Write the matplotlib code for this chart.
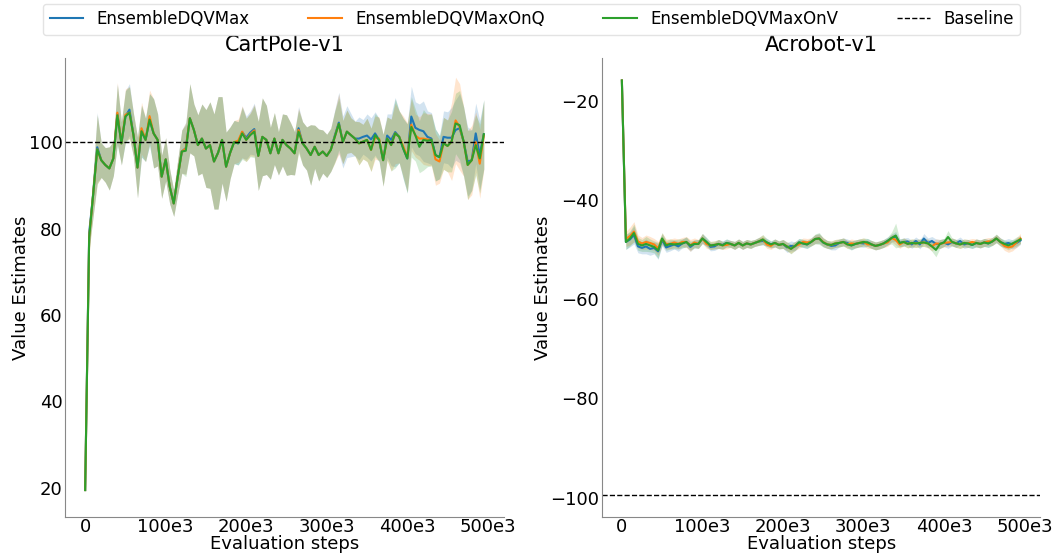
import numpy as np
import matplotlib
matplotlib.use('Agg')
import matplotlib.pyplot as plt

# evaluation every 5e3 steps
steps = np.arange(100) * 5000

labels = ['EnsembleDQVMax', 'EnsembleDQVMaxOnQ', 'EnsembleDQVMaxOnV']
colors = ['#1f77b4', '#ff7f0e', '#2ca02c']

# CartPole-v1 value estimates
cart_max = [19.5, 79, 88, 98.8, 95.8, 94.7, 93.9, 96.2, 106.5, 99.7,
            105.9, 107.5, 101.6, 94.1, 102.5, 100.5, 105.2, 102, 100.5, 92,
            96, 89.7, 85.8, 92, 97.8, 98.6, 105.5, 102.8, 99.3, 100.8,
            98.5, 99.3, 95.5, 97.5, 100.5, 94.3, 97.5, 100, 99.7, 102.3,
            101, 102.2, 103, 96.8, 101.2, 100.5, 97.4, 100.8, 97.4, 100.5,
            99.3, 98.5, 97.4, 103.2, 99.7, 98.5, 97, 98.9, 97, 97.8,
            96.8, 98.2, 101.5, 104.5, 100, 102.4, 101.6, 100.8, 100.8, 101.2,
            101.5, 100.6, 102, 100.5, 95.8, 101.5, 100.5, 102.3, 101.2, 98.5,
            96.2, 105.9, 103.3, 102.8, 102.5, 101.2, 100.8, 97, 96.5, 101.2,
            101, 101, 102.8, 103.2, 100.1, 95.5, 95.8, 102, 97, 101.8]
cart_max_q = [19.5, 78, 88, 98.3, 95.8, 94.7, 93.9, 96.2, 106.8, 99.7,
              106.3, 106.8, 101.6, 94.1, 103.2, 100.5, 106, 102, 100.5, 92,
              96, 89.7, 85.8, 92, 97.8, 98.5, 105.5, 102.8, 99.3, 100.8,
              98.5, 99.3, 95.5, 97.5, 100.5, 94.3, 97.5, 100, 100.3, 102.4,
              100.5, 101.8, 102.7, 96.8, 101.2, 100.5, 97.4, 100.8, 97.4, 100.5,
              99.3, 98.5, 97.4, 102.8, 99.7, 98.5, 97, 98.9, 97, 97.8,
              96.8, 98.2, 101.2, 104.2, 100, 102.4, 101.6, 100.8, 99.7, 100.1,
              100.5, 98.2, 101, 100.8, 95.8, 100.8, 99.3, 102, 101.2, 99,
              96.5, 104, 101.5, 100.8, 100.8, 100.6, 100.5, 96, 95.5, 99.7,
              99.1, 100.1, 105, 103.5, 100.1, 94.7, 95.8, 100, 95, 101.5]
cart_max_v = [19.5, 78, 88, 98.3, 95.8, 94.7, 93.9, 96.2, 106.2, 99.7,
              105.9, 106.8, 101.6, 94.1, 102.5, 100.5, 105.2, 102, 100.5, 92,
              96, 89.7, 85.8, 92, 97.8, 98, 105.5, 102.8, 99.3, 100.8,
              98.5, 99.3, 95.5, 97.5, 100.5, 94.3, 97.5, 100, 99.7, 102,
              100.5, 101.6, 102.4, 96.8, 101.2, 100.5, 97.4, 100.8, 97.4, 100.5,
              99.3, 98.5, 97.4, 102.4, 99.7, 98.5, 97, 98.9, 97, 97.8,
              96.8, 98.2, 101.2, 104.2, 100, 102.4, 101.6, 100.8, 99.7, 100.1,
              100.5, 98.2, 101.6, 100.5, 95.8, 100.8, 99.3, 102, 101.2, 98.5,
              96.2, 103.5, 101.6, 98.9, 100.5, 100.3, 100.5, 97, 96.5, 99.7,
              99.1, 100.1, 104.3, 103.9, 100.1, 94.7, 95.8, 99.3, 96.2, 101.8]
cart_max_err = [0.5, 3, 5, 8, 4, 4, 5, 4, 7, 5,
                6, 6, 5, 7, 6, 5, 6, 8, 6, 5,
                5, 4, 3, 4, 5, 6, 8, 6, 7, 8,
                9, 10, 11, 13, 10, 8, 6, 5, 5, 6,
                5, 5, 6, 8, 9, 8, 6, 6, 5, 6,
                7, 6, 5, 5, 5, 5, 7, 5, 6, 5,
                5, 5, 6, 7, 6, 6, 5, 4, 5, 4,
                5, 5, 5, 5, 6, 5, 6, 8, 6, 7,
                8, 7, 6, 6, 7, 6, 6, 6, 5, 6,
                6, 7, 7, 8, 8, 8, 7, 7, 8, 8]
cart_max_q_err = [0.5, 3, 5, 8, 4, 4, 5, 4, 7, 5,
                  6, 6, 5, 7, 6, 5, 6, 8, 6, 5,
                  5, 4, 3, 4, 5, 6, 8, 6, 7, 8,
                  9, 10, 11, 13, 10, 8, 6, 5, 5, 6,
                  5, 5, 6, 8, 9, 8, 6, 6, 5, 6,
                  7, 6, 5, 5, 5, 5, 7, 5, 6, 5,
                  5, 5, 6, 7, 5, 5, 4, 4, 5, 4,
                  5, 5, 5, 5, 6, 5, 6, 7, 6, 7,
                  8, 6, 5, 5, 6, 6, 6, 6, 5, 6,
                  6, 9, 10, 10, 8, 8, 8, 7, 8, 8]
cart_max_v_err = [0.5, 3, 5, 8, 4, 4, 5, 4, 7, 5,
                  6, 6, 5, 7, 6, 5, 6, 8, 6, 5,
                  5, 4, 3, 4, 5, 6, 8, 6, 7, 8,
                  9, 10, 11, 13, 10, 8, 6, 5, 5, 6,
                  5, 5, 6, 8, 9, 8, 6, 6, 5, 6,
                  7, 6, 5, 5, 5, 5, 7, 5, 6, 5,
                  5, 5, 6, 6, 5, 5, 4, 4, 5, 4,
                  5, 5, 5, 5, 6, 5, 6, 8, 6, 7,
                  8, 7, 6, 6, 7, 6, 6, 6, 5, 6,
                  6, 7, 7, 8, 8, 8, 7, 7, 8, 8]

# Acrobot-v1 value estimates
acro_max = [-15.8, -48.4, -47.9, -47.0, -49.3, -49.6, -49.3, -49.8, -49.6, -50.3,
            -48.0, -49.5, -49.2, -48.9, -49.3, -48.7, -48.4, -49.4, -48.8, -48.8,
            -47.7, -48.4, -49.4, -49.3, -48.8, -49.0, -48.6, -48.8, -49.1, -48.6,
            -49.1, -48.7, -48.9, -48.6, -48.3, -48.2, -48.5, -48.9, -48.6, -49.0,
            -48.8, -49.5, -49.2, -49.3, -48.5, -48.7, -48.9, -48.4, -47.8, -47.7,
            -48.5, -48.9, -49.2, -49.1, -48.6, -48.4, -48.6, -49.1, -48.8, -48.6,
            -48.7, -48.5, -48.9, -49.2, -49.0, -48.7, -48.2, -47.6, -47.3, -48.6,
            -48.4, -48.3, -48.9, -48.2, -48.9, -47.7, -48.6, -48.2, -48.8, -48.8,
            -48.5, -48.9, -48.4, -48.7, -48.2, -48.9, -48.7, -49.0, -48.6, -48.8,
            -48.5, -48.7, -48.3, -47.7, -48.4, -48.8, -48.6, -48.9, -48.6, -48.1]
acro_max_q = [-15.8, -47.8, -47.2, -46.3, -48.3, -48.7, -48.4, -48.6, -48.9, -49.7,
              -47.8, -48.8, -48.8, -48.5, -48.8, -48.4, -48.4, -49.1, -48.5, -48.8,
              -47.7, -48.8, -49.1, -49.0, -48.8, -49.1, -49.0, -48.8, -49.1, -48.6,
              -49.1, -48.7, -48.9, -48.6, -48.3, -47.9, -48.9, -49.2, -48.6, -49.0,
              -48.8, -49.3, -49.8, -49.2, -48.9, -48.4, -48.5, -48.4, -47.8, -47.7,
              -48.4, -48.9, -49.0, -48.7, -48.6, -48.4, -48.9, -48.7, -48.8, -48.6,
              -48.4, -48.9, -48.9, -49.2, -49.0, -48.7, -48.5, -47.6, -48.0, -48.9,
              -48.4, -48.8, -48.6, -48.7, -48.6, -48.5, -48.7, -49.3, -48.7, -48.8,
              -48.6, -48.5, -48.4, -48.7, -48.9, -48.6, -48.7, -48.4, -48.6, -48.8,
              -48.5, -48.3, -48.3, -47.7, -48.4, -49.2, -49.5, -49.3, -48.5, -47.7]
acro_max_v = [-15.8, -48.4, -47.7, -46.6, -48.8, -49.1, -48.8, -49.1, -49.4, -50.1,
              -47.7, -49.1, -48.8, -48.9, -48.8, -48.7, -48.4, -49.1, -48.8, -48.8,
              -47.7, -48.4, -49.1, -49.0, -48.8, -49.1, -48.6, -48.8, -49.1, -48.6,
              -49.1, -48.7, -48.9, -48.6, -48.3, -47.9, -48.5, -48.9, -48.6, -49.0,
              -48.8, -49.3, -49.8, -49.2, -48.5, -48.7, -48.9, -48.4, -47.8, -47.7,
              -48.5, -48.9, -49.0, -48.7, -48.6, -48.4, -48.9, -49.1, -48.8, -48.6,
              -48.4, -48.5, -48.9, -49.2, -49.0, -48.7, -48.2, -47.6, -47.1, -48.6,
              -48.4, -48.8, -48.6, -48.7, -48.6, -48.5, -48.7, -49.3, -50.0, -48.8,
              -48.5, -47.4, -48.4, -48.7, -48.9, -48.6, -48.7, -49.0, -48.6, -48.8,
              -48.5, -48.7, -48.3, -47.7, -48.4, -48.8, -49.1, -48.7, -48.3, -47.9]
acro_max_err = [0.2, 1.5, 1.5, 1.8, 1.3, 1.2, 1.5, 1.3, 1.2, 1.6,
                1.2, 1.0, 1.0, 0.9, 1.0, 0.9, 1.0, 0.9, 0.8, 0.9,
                1.0, 0.9, 0.8, 0.8, 0.9, 0.8, 0.8, 0.7, 0.8, 0.8,
                0.8, 0.8, 0.8, 0.7, 0.8, 0.8, 0.8, 0.7, 0.8, 0.8,
                0.9, 1.0, 1.0, 0.9, 0.8, 0.8, 0.8, 0.8, 0.9, 1.0,
                0.9, 0.8, 0.8, 0.9, 0.8, 0.8, 0.8, 0.9, 0.8, 0.8,
                0.8, 0.8, 0.8, 0.8, 0.8, 0.8, 0.8, 0.8, 1.0, 0.8,
                0.8, 0.8, 0.8, 0.8, 0.9, 1.0, 1.0, 0.9, 1.0, 0.9,
                0.8, 0.8, 0.8, 0.8, 0.8, 0.8, 0.8, 0.7, 0.8, 0.8,
                0.8, 0.8, 0.8, 0.8, 0.8, 0.8, 0.9, 0.9, 0.9, 0.8]
acro_max_q_err = [0.2, 1.5, 1.8, 2.0, 1.3, 1.2, 1.4, 1.3, 1.2, 1.4,
                  1.2, 1.0, 1.0, 0.9, 1.0, 0.9, 1.1, 1.2, 0.9, 0.9,
                  1.0, 0.9, 0.8, 0.8, 0.9, 0.8, 0.8, 0.7, 0.8, 0.8,
                  0.8, 0.8, 0.8, 0.7, 0.8, 0.9, 0.8, 0.7, 0.8, 0.8,
                  0.9, 0.9, 0.9, 0.9, 0.8, 0.8, 0.8, 0.8, 0.9, 0.9,
                  0.9, 0.8, 0.8, 0.8, 0.8, 0.8, 0.8, 0.9, 0.8, 0.8,
                  0.8, 0.8, 0.8, 0.8, 0.8, 0.8, 0.8, 0.8, 1.0, 0.8,
                  0.8, 0.8, 0.8, 0.8, 0.8, 0.8, 0.9, 0.9, 0.9, 0.9,
                  0.8, 0.8, 0.8, 0.8, 0.8, 0.8, 0.8, 0.7, 0.8, 0.8,
                  0.8, 0.8, 0.8, 0.8, 0.8, 0.9, 1.0, 0.9, 1.0, 1.0]
acro_max_v_err = [0.2, 1.5, 1.5, 1.8, 1.3, 1.2, 1.5, 1.3, 1.2, 1.6,
                  1.2, 1.0, 1.0, 0.9, 1.0, 0.9, 1.0, 0.9, 0.8, 0.9,
                  1.0, 0.9, 0.8, 0.8, 0.9, 0.8, 0.8, 0.7, 0.8, 0.8,
                  0.8, 0.8, 0.8, 0.7, 0.8, 1.0, 0.8, 0.7, 0.8, 0.8,
                  0.9, 0.9, 1.0, 0.9, 0.8, 0.8, 0.8, 0.8, 1.0, 1.2,
                  0.9, 0.8, 0.8, 0.8, 0.8, 0.8, 0.8, 0.9, 0.8, 0.8,
                  0.8, 0.8, 0.8, 0.8, 0.8, 0.8, 0.8, 1.2, 2.5, 0.8,
                  0.8, 0.8, 0.8, 0.8, 0.8, 0.8, 0.8, 1.0, 1.4, 0.9,
                  0.8, 1.3, 0.8, 0.8, 0.8, 0.8, 0.8, 0.7, 0.8, 0.8,
                  0.8, 0.8, 0.8, 0.9, 0.8, 0.8, 0.9, 0.8, 0.9, 0.8]

baselines = [100, -99.4]
titles = ['CartPole-v1', 'Acrobot-v1']
x_ticks = [0, 100e3, 200e3, 300e3, 400e3, 500e3]
x_ticklabels = ['0', '100e3', '200e3', '300e3', '400e3', '500e3']

panels = [
    ([cart_max, cart_max_q, cart_max_v], [cart_max_err, cart_max_q_err, cart_max_v_err]),
    ([acro_max, acro_max_q, acro_max_v], [acro_max_err, acro_max_q_err, acro_max_v_err]),
]

fig, axes = plt.subplots(1, 2, figsize=(10.52, 5.54), dpi=100)
fig.subplots_adjust(left=0.062, right=0.989, bottom=0.067, top=0.895, wspace=0.224)

for ax, (means, errs), base, title in zip(axes, panels, baselines, titles):
    for m, e, lab, c in zip(means, errs, labels, colors):
        m = np.array(m)
        e = np.array(e)
        ax.plot(steps, m, color=c, lw=1.5, label=lab)
        ax.fill_between(steps, m - e, m + e, color=c, alpha=0.2, lw=0)
    ax.axhline(base, color='black', ls='--', lw=1, label='Baseline')
    ax.set_title(title, fontsize=15, pad=5)
    ax.set_xlabel('Evaluation steps', fontsize=13, labelpad=-1)
    ax.set_ylabel('Value Estimates', fontsize=13, labelpad=-1)
    ax.set_xticks(x_ticks)
    ax.set_xticklabels(x_ticklabels)
    ax.tick_params(length=0, labelsize=13)
    ax.tick_params(axis='x', pad=1)
    ax.tick_params(axis='y', pad=2)
    for s in ['top', 'right']:
        ax.spines[s].set_visible(False)
    for s in ['left', 'bottom']:
        ax.spines[s].set_color('#888888')

axes[0].set_ylim(13.3, 119.4)
axes[0].set_yticks([20, 40, 60, 80, 100])
axes[1].set_ylim(-103.9, -11.3)
axes[1].set_yticks([-100, -80, -60, -40, -20])

handles, labs = axes[0].get_legend_handles_labels()
fig.legend(handles, labs, loc='lower left', ncol=4, mode='expand',
           bbox_to_anchor=(0.041, 0.937, 0.929, 0.058), fontsize=12,
           frameon=True, edgecolor='#dddddd', borderaxespad=0)

fig.savefig('out.png', dpi=100)
